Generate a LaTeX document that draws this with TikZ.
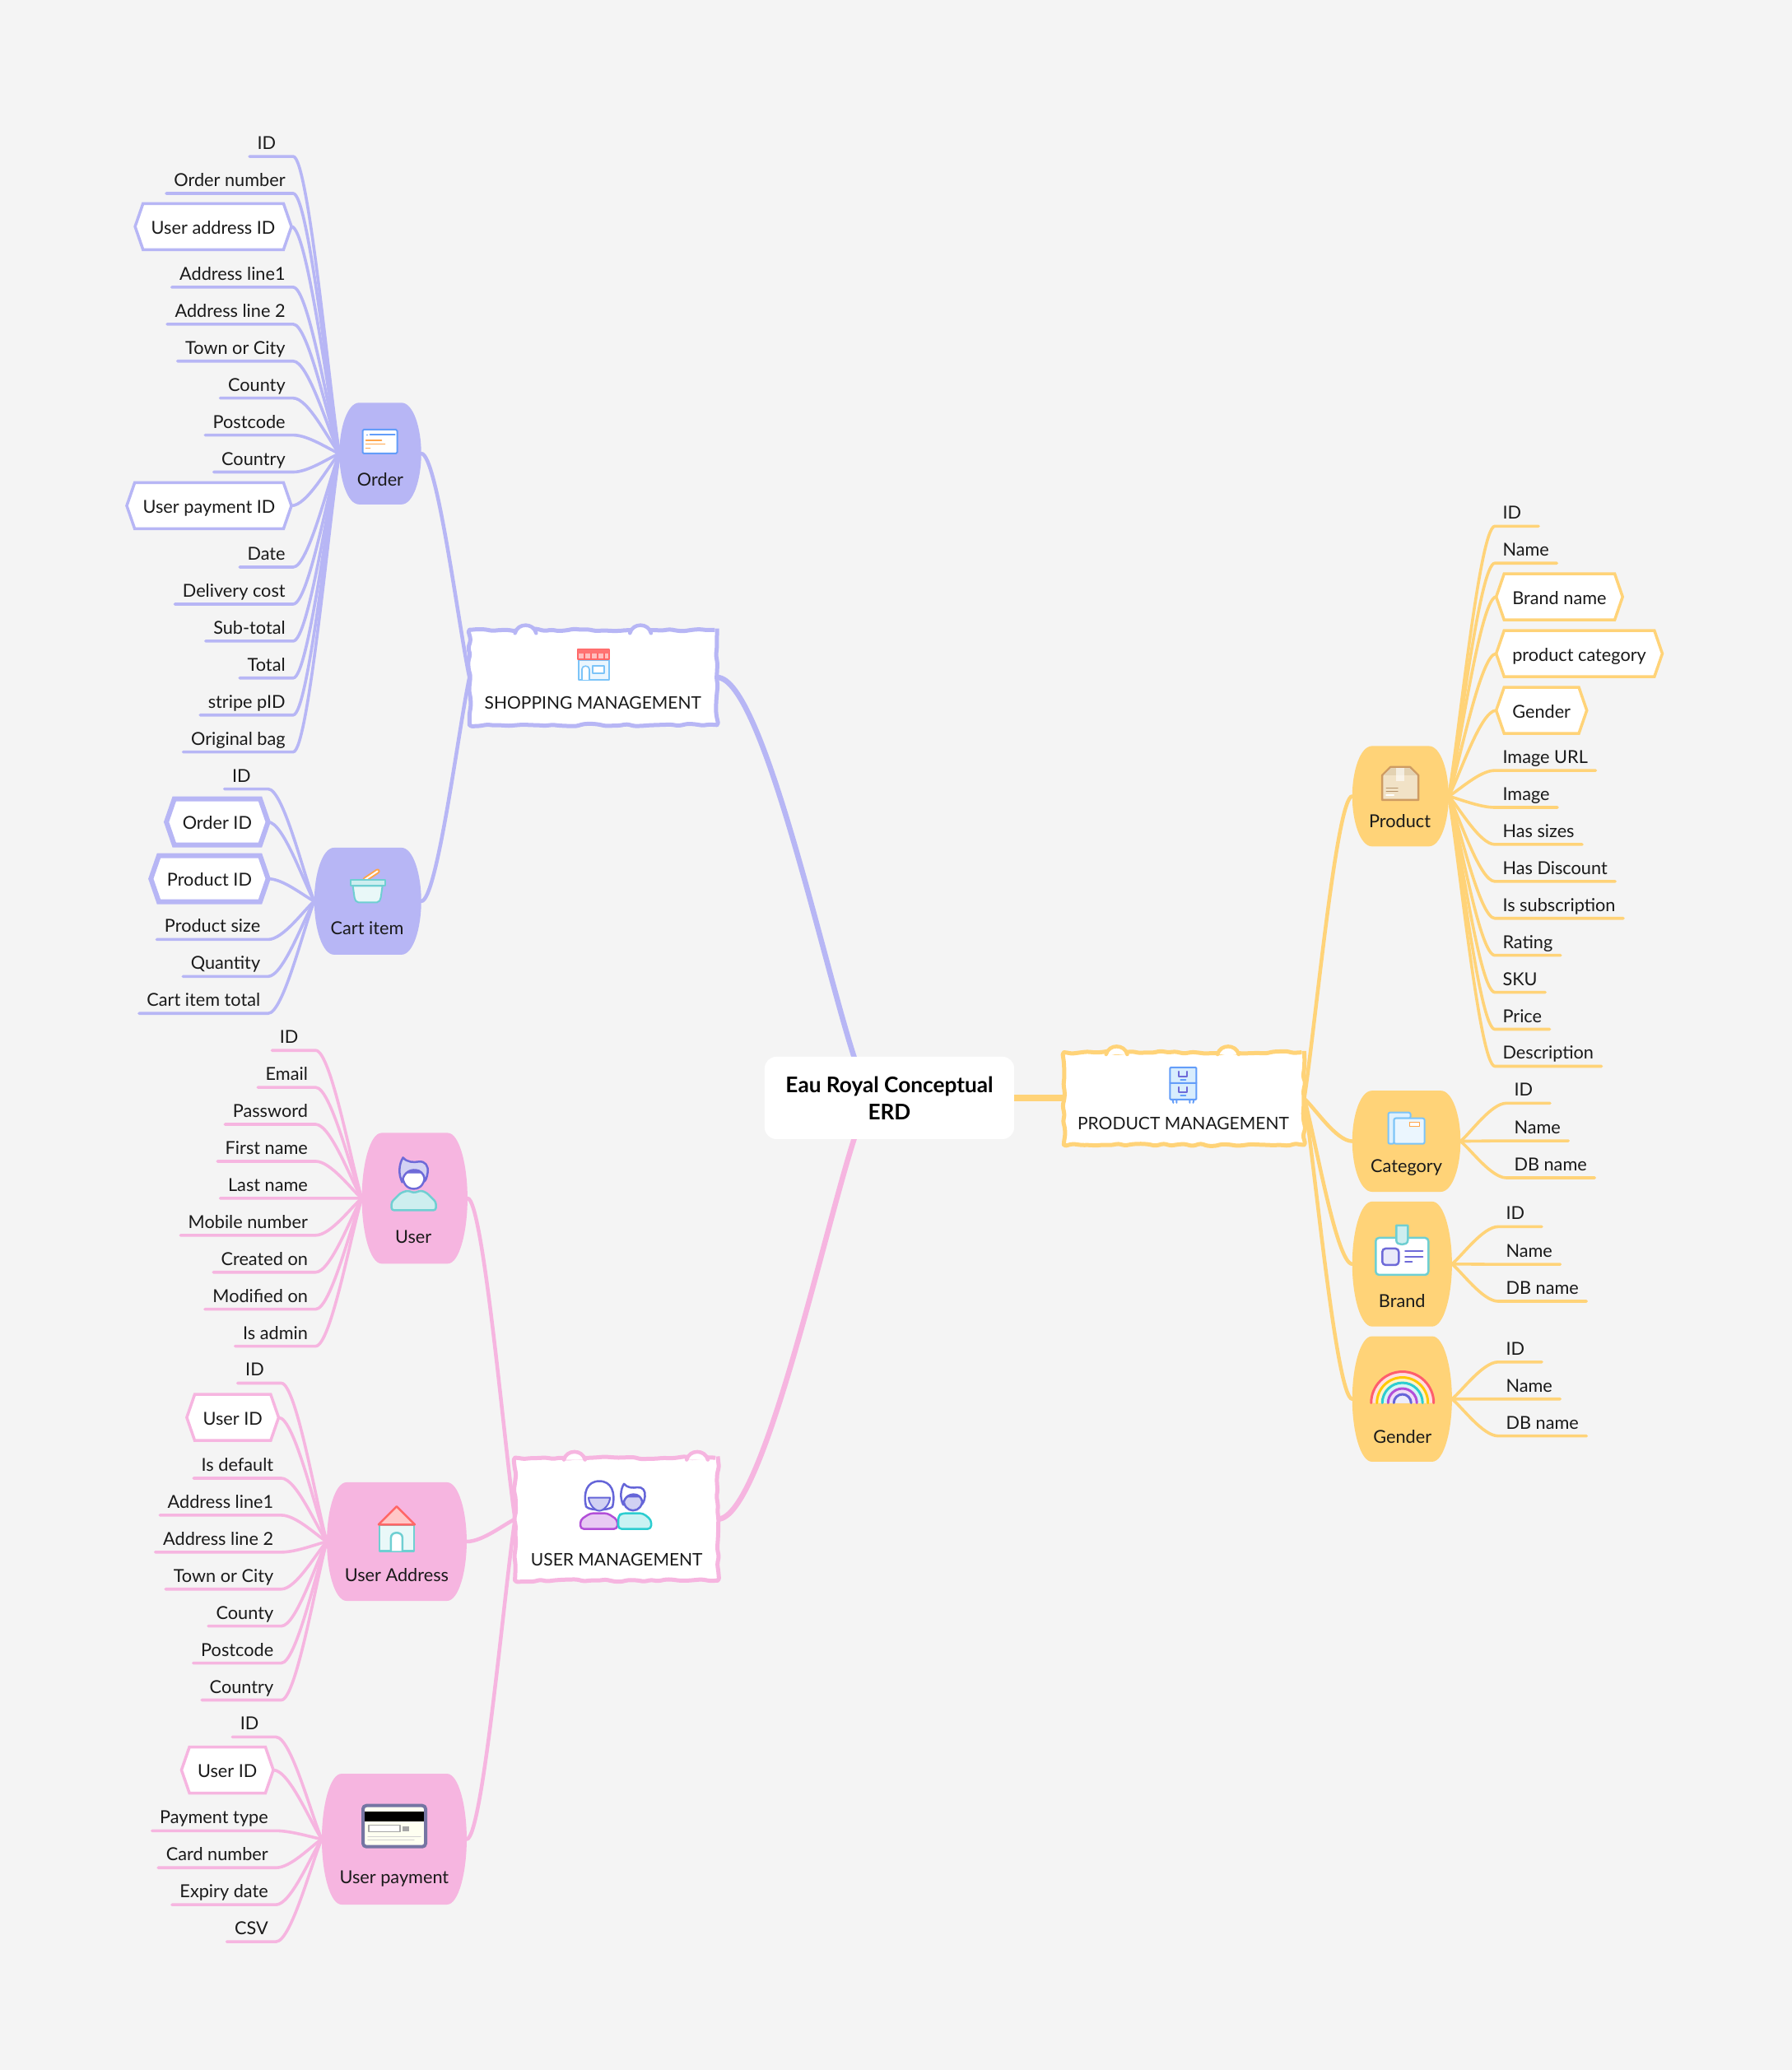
\documentclass[tikz,border=0pt]{standalone}
\usepackage{fontspec}
\setmainfont{Lato}
\usetikzlibrary{calc,fit,decorations.pathmorphing,shapes.symbols}
\pgfdeclarelayer{bglayer}\pgfdeclarelayer{conn}
\pgfsetlayers{bglayer,conn,main}
\definecolor{pgbg}{HTML}{F4F4F4}
\definecolor{lav}{HTML}{B7B6F5}
\definecolor{yel}{HTML}{FFD378}
\definecolor{pnk}{HTML}{F6B5E0}
\definecolor{ink}{HTML}{1A1A1A}
\definecolor{teal1}{HTML}{6FCFD2}
\definecolor{indg}{HTML}{6E6AD8}
\definecolor{sky}{HTML}{7CC4F8}
\definecolor{rbred}{HTML}{FF5E6C}
\definecolor{rbyel}{HTML}{FFC900}
\definecolor{rbtea}{HTML}{2CCDD0}
\definecolor{rbpur}{HTML}{B24FD8}
\definecolor{rbind}{HTML}{6565D8}
\definecolor{boxlt}{HTML}{F1E2C6}
\definecolor{boxdk}{HTML}{CE9B62}
\definecolor{boxbd}{HTML}{E3D2B2}
\colorlet{cur}{lav}
\pgfmathsetseed{7}
\tikzset{
 txt/.style={font=\fontsize{21.7}{26}\selectfont,text=ink},
 leaf/.style={txt,inner xsep=9.5pt,inner ysep=3.5pt,text height=16pt,text depth=5pt,minimum width=53pt,outer sep=0pt},
 idleaf/.style={leaf,text width=34pt,align=left},
 hexleaf/.style={txt,signal,signal to=east and west,signal pointer angle=142,draw=cur,fill=white,line width=3.5pt,inner xsep=10pt,inner ysep=0pt,minimum height=56pt,outer sep=0pt,text height=20pt,text depth=2pt},
 thickhex/.style={line width=6pt},
 branch/.style={draw=cur,line width=3.6pt,line cap=round},
 trunk/.style={draw=cur,line width=4.5pt,line cap=round},
 mainline/.style={draw=cur,line width=6.5pt},
 hubframe/.style={inner sep=0pt,outer sep=0pt},
 cloudbox/.style={draw=cur,fill=white,line width=5pt,line join=round,inner sep=0pt,outer sep=0pt,rounded corners=3pt,decorate,decoration={random steps,segment length=9pt,amplitude=1.6pt}},
 hubtext/.style={txt,inner sep=0pt},
 boxtext/.style={txt,font=\fontsize{21}{26}\selectfont,inner sep=0pt},
 ico/.style={line width=2pt,line join=round,line cap=round},
}
\newcommand{\curveto}[2]{.. controls ($(#1)!0.33!(#1 -| #2)$) and ($(#2)!0.22!(#1)$) .. (#2)}
\newcommand{\lf}[5]{\node[leaf,anchor=south east] (#1) at (#2,#3+10.5) {#4};
 \begin{pgfonlayer}{conn}\draw[branch] (#1.south west) -- (#1.south east) \curveto{#1.south east}{#5.west};\end{pgfonlayer}}
\newcommand{\lid}[5]{\node[idleaf,anchor=south east] (#1) at (#2,#3+10.5) {#4};
 \begin{pgfonlayer}{conn}\draw[branch] (#1.south west) -- (#1.south east) \curveto{#1.south east}{#5.west};\end{pgfonlayer}}
\newcommand{\lhex}[6][]{\node[hexleaf,#1,anchor=east] (#2) at (#3,#4) {#5};
 \begin{pgfonlayer}{conn}\draw[branch] (#2.east) \curveto{#2.east}{#6.west};\end{pgfonlayer}}
\newcommand{\rf}[5]{\node[leaf,anchor=south west] (#1) at (#2,#3+10.5) {#4};
 \begin{pgfonlayer}{conn}\draw[branch] (#1.south east) -- (#1.south west) \curveto{#1.south west}{#5.east};\end{pgfonlayer}}
\newcommand{\rid}[5]{\node[idleaf,anchor=south west] (#1) at (#2,#3+10.5) {#4};
 \begin{pgfonlayer}{conn}\draw[branch] (#1.south east) -- (#1.south west) \curveto{#1.south west}{#5.east};\end{pgfonlayer}}
\newcommand{\rhex}[5]{\node[hexleaf,anchor=west] (#1) at (#2,#3) {#4};
 \begin{pgfonlayer}{conn}\draw[branch] (#1.west) \curveto{#1.west}{#5.east};\end{pgfonlayer}}
\newcommand{\hubshape}[5]{%
 \pgfmathsetmacro\hh{(#5-#3)*0.25}\pgfmathsetmacro\ym{(#3+#5)/2}%
 \fill[cur] (#2+15,#3) -- (#4-15,#3) .. controls (#4-6,#3) and (#4,#3+\hh) .. (#4,\ym) .. controls (#4,#5-\hh) and (#4-6,#5) .. (#4-15,#5)
  -- (#2+15,#5) .. controls (#2+6,#5) and (#2,#5-\hh) .. (#2,\ym) .. controls (#2,#3+\hh) and (#2+6,#3) .. (#2+15,#3) -- cycle;
 \node[hubframe,fit={(#2,#3)(#4,#5)}] (#1) {};}
\newcommand{\cbump}[2]{\filldraw[cur,line width=4.5pt,fill=white,line cap=round] (#1-8,#2+1.5) .. controls (#1-6,#2-6.5) and (#1+6,#2-6.5) .. (#1+8,#2+1.5);}
\newcommand{\icon}[3]{\begin{scope}[shift={(#1,#2)},x=1pt,y=-1pt,ico]#3\end{scope}}
\newcommand{\rarc}[2]{\draw[#2] (-#1,0) .. controls (-#1,-0.552*#1) and (-0.552*#1,-#1) .. (0,-#1) .. controls (0.552*#1,-#1) and (#1,-0.552*#1) .. (#1,0);}
\begin{document}
\begin{tikzpicture}[x=1.60427pt,y=-1.60427pt]
\begin{pgfonlayer}{bglayer}
\fill[pgbg] (0,0) rectangle (1357,1567.7);
\end{pgfonlayer}
\useasboundingbox (0,0) rectangle (1357,1567.7);

\node[fill=white,rounded corners=14pt,inner sep=0pt,outer sep=0pt,minimum width=303pt,minimum height=100pt,align=center,
 font=\fontsize{26.2}{33}\selectfont\bfseries,text=black] (center) at (673.5,831.5) {Eau Royal Conceptual\\ERD};
\coordinate (ctop) at (650,810);
\coordinate (cbot) at (650,853);

%========== SHOPPING
\colorlet{cur}{lav}
\node[cloudbox,fit={(355.5,477)(543,549)}] (shop) {};
\cbump{398}{478}\cbump{485}{478}
\node[boxtext] (shopT) at (449,532) {SHOPPING MANAGEMENT};
\begin{pgfonlayer}{conn}\draw[mainline] (shop.east) \curveto{shop.east}{ctop};\end{pgfonlayer}
\icon{449.4}{503}{
 \draw[sky,fill=sky!15,line width=1.6pt] (-18,-5) rectangle (19,19);
 \draw[sky,line width=1.6pt,fill=white] (-14,19) -- (-14,6) .. controls (-14,1) and (-5,1) .. (-5,6) -- (-5,19);
 \draw[sky,line width=1.6pt,fill=white] (-1,2) rectangle (13,11);
 \draw[red!60!white,fill=red!25!white,line width=1.6pt] (-19,-18) rectangle (19,-6);
 \fill[red!55!white] (-19,-18) rectangle (19,-13);
 \foreach \q in {-11,-3,5,13}{\draw[red!60!white,line width=1.6pt] (\q,-13) -- (\q,-7);}
}
\hubshape{order}{257}{305}{319}{382}
\node[hubtext] (orderT) at (288,363) {Order};
\icon{287.7}{334.4}{
 \draw[sky!80!blue,fill=white,rounded corners=1.5pt] (-21,-14.5) rectangle (21,14.5);
 \draw[sky!80!blue] (-12,-8) -- (18,-8); \fill[sky!80!blue] (-17,-8.8) rectangle (-15,-7.2);
 \draw[orange!70!white,line width=1.5pt] (-17,-1.5) -- (2,-1.5) (-17,3) -- (6,3) (-17,8) -- (-12,8);
}
\begin{pgfonlayer}{conn}\draw[trunk] (order.east) \curveto{order.east}{shop.west};\end{pgfonlayer}
\lid{o1}{222}{108}{ID}{order}
\lf{o2}{222}{136}{Order number}{order}
\lhex{o3}{220.7}{171.6}{User address ID}{order}
\lf{o4}{222}{207}{Address line1}{order}
\lf{o5}{222}{235}{Address line 2}{order}
\lf{o6}{222}{263}{Town or City}{order}
\lf{o7}{222}{291}{County}{order}
\lf{o8}{222}{319}{Postcode}{order}
\lf{o9}{222}{347}{Country}{order}
\lhex{o10}{220.7}{383}{User payment ID}{order}
\lf{o11}{222}{419}{Date}{order}
\lf{o12}{222}{447}{Delivery cost}{order}
\lf{o13}{222}{475}{Sub-total}{order}
\lf{o14}{222}{503}{Total}{order}
\lf{o15}{222}{531}{stripe pID}{order}
\lf{o16}{222}{559}{Original bag}{order}

\hubshape{cart}{238}{642}{319}{723}
\node[hubtext] (cartT) at (278,703) {Cart item};
\icon{278.4}{671}{
 \draw[orange!70!white,line width=6pt] (-3,-8) -- (12,-18);
 \draw[white,line width=2pt] (-3,-8) -- (12,-18);
 \draw[teal1,fill=teal1!15] (-18,0) -- (-16,14) .. controls (-15.5,17) and (-14,20) .. (-11,20) -- (11,20) .. controls (14,20) and (15.5,17) .. (16,14) -- (18,0) -- cycle;
 \draw[teal1,fill=teal1!35] (-21,-7) rectangle (21,0);
}
\begin{pgfonlayer}{conn}\draw[trunk] (cart.east) \curveto{cart.east}{shop.west};\end{pgfonlayer}
\lid{c1}{203}{587}{ID}{cart}
\lhex[thickhex]{c2}{203}{622.5}{Order ID}{cart}
\lhex[thickhex]{c3}{203}{665.5}{Product ID}{cart}
\lf{c4}{203}{701}{Product size}{cart}
\lf{c5}{203}{729}{Quantity}{cart}
\lf{c6}{203}{757}{Cart item total}{cart}

%========== PRODUCT
\colorlet{cur}{yel}
\node[cloudbox,fit={(805.6,797)(987.6,867)}] (prod) {};
\cbump{845.6}{797}\cbump{930}{797}
\node[boxtext] (prodT) at (896,851) {PRODUCT MANAGEMENT};
\begin{pgfonlayer}{conn}\draw[draw=yel,line width=8pt] (center.east) -- (center.east -| prod.west);\end{pgfonlayer}
\icon{896}{821.5}{
 \draw[sky!80!blue,fill=sky!30,rounded corners=1pt] (-16,-21) rectangle (16,18);
 \draw[sky!80!blue] (-13,18) -- (-12,22) (-8,18) -- (-8,22) (13,18) -- (12,22) (8,18) -- (8,22) (-16,-2) -- (16,-2);
 \draw[indg] (-5,-16) -- (-5,-10) -- (5,-10) -- (5,-16) (-5,3) -- (-5,9) -- (5,9) -- (5,3);
 \draw[sky!80!blue] (-3,-6) -- (3,-6) (-3,13) -- (3,13);
}
\hubshape{product}{1024}{565}{1097}{641}
\node[hubtext] (productT) at (1060,622) {Product};
\icon{1060.4}{593.4}{
 \draw[boxdk,fill=boxlt,line width=2.5pt] (-22,-10) -- (-12,-20) -- (12,-20) -- (22,-10) -- (22,20) -- (-22,20) -- cycle;
 \fill[boxbd] (-20.5,-10) -- (-11.5,-18.5) -- (11.5,-18.5) -- (20.5,-10) -- cycle;
 \fill[white,opacity=.6] (-5,-18.5) rectangle (5,-3);
 \draw[boxdk!70!gray,line width=1pt] (-17,6) -- (-3,6) (-17,10) -- (-3,10);
 \draw[white,line width=2pt] (-17,14) -- (-8,14);
}
\begin{pgfonlayer}{conn}\draw[trunk] (product.west) \curveto{product.west}{prod.east};\end{pgfonlayer}
\rid{p1}{1132}{388}{ID}{product}
\rf{p2}{1132}{416}{Name}{product}
\rhex{p3}{1133}{452}{Brand name}{product}
\rhex{p4}{1133}{495}{product category}{product}
\rhex{p5}{1133}{538}{Gender}{product}
\rf{p6}{1132}{573}{Image URL}{product}
\rf{p7}{1132}{601}{Image}{product}
\rf{p8}{1132}{629}{Has sizes}{product}
\rf{p9}{1132}{657}{Has Discount}{product}
\rf{p10}{1132}{685}{Is subscription}{product}
\rf{p11}{1132}{713}{Rating}{product}
\rf{p12}{1132}{741}{SKU}{product}
\rf{p13}{1132}{769}{Price}{product}
\rf{p14}{1132}{797}{Description}{product}

\hubshape{cat}{1024}{826}{1106}{902.6}
\node[hubtext] (catT) at (1065,884) {Category};
\icon{1065}{854.4}{
 \draw[sky,fill=sky!25,rounded corners=2pt] (-22,19) -- (-22,-19) -- (5,-19) -- (5,-12) -- (-15,-12) -- (-15,19) -- cycle;
 \draw[sky,fill=sky!15,rounded corners=2pt] (-15,-12) rectangle (22,19);
 \draw[orange!70!white,fill=white,line width=1.5pt] (4,-7) rectangle (16,-2);
}
\begin{pgfonlayer}{conn}\draw[trunk] (cat.west) \curveto{cat.west}{prod.east};\end{pgfonlayer}
\rid{k1}{1140.7}{825}{ID}{cat}
\rf{k2}{1140.7}{853.5}{Name}{cat}
\rf{k3}{1140.7}{881.5}{DB name}{cat}

\hubshape{brand}{1024}{910}{1099.5}{1004.6}
\node[hubtext] (brandT) at (1061.7,985.5) {Brand};
\icon{1061.7}{946.8}{
 \draw[teal1,fill=white,line width=2.5pt,rounded corners=4pt] (-32,-15) rectangle (32,30);
 \draw[teal1,fill=teal1!35,line width=2.5pt] (-7,-30) -- (7,-30) -- (7,-12) .. controls (7,-8) and (3,-7) .. (0,-7) .. controls (-3,-7) and (-7,-8) .. (-7,-12) -- cycle;
 \draw[indg,fill=indg!15,line width=2.5pt,rounded corners=4pt] (-24,-2) rectangle (-4,18);
 \draw[indg,line width=2.2pt] (4,1) -- (25,1) (4,8) -- (25,8) (4,14) -- (12,14);
}
\begin{pgfonlayer}{conn}\draw[trunk] (brand.west) \curveto{brand.west}{prod.east};\end{pgfonlayer}
\rid{b1}{1134.5}{918.5}{ID}{brand}
\rf{b2}{1134.5}{947}{Name}{brand}
\rf{b3}{1134.5}{975}{DB name}{brand}

\hubshape{gender}{1024}{1012}{1099.5}{1107}
\node[hubtext] (genderT) at (1062,1088) {Gender};
\icon{1062}{1062.5}{
 \rarc{38}{rbred,fill=rbred!20!white,line width=3pt}
 \rarc{31}{rbyel,fill=rbyel!20!white,line width=3pt}
 \rarc{24.5}{rbtea,fill=rbtea!20!white,line width=3pt}
 \rarc{17.5}{rbpur,fill=rbpur!20!white,line width=3pt}
 \rarc{10.5}{rbind,fill=rbind!12!white,line width=3pt}
}
\begin{pgfonlayer}{conn}\draw[trunk] (gender.west) \curveto{gender.west}{prod.east};\end{pgfonlayer}
\rid{g1}{1134.5}{1021}{ID}{gender}
\rf{g2}{1134.5}{1049}{Name}{gender}
\rf{g3}{1134.5}{1077}{DB name}{gender}

%========== USER
\colorlet{cur}{pnk}
\node[cloudbox,fit={(390,1104)(543.5,1197)}] (umg) {};
\cbump{435}{1104}\cbump{528}{1104}
\node[boxtext] (umgT) at (467,1181) {USER MANAGEMENT};
\begin{pgfonlayer}{conn}\draw[mainline] (umg.east) \curveto{umg.east}{cbot};\end{pgfonlayer}
\icon{466.3}{1139.8}{
 \draw[rbpur,fill=rbpur!30!white,line width=2.5pt,rounded corners=4pt] (-43,29) -- (-43,18) -- (-31,10) -- (-10,10) -- (2,18) -- (2,29) -- cycle;
 \draw[rbind,fill=white,line width=2.5pt] (-36,2) .. controls (-40,-15) and (-35,-29) .. (-20,-29) .. controls (-5,-29) and (0,-15) .. (-4,2) .. controls (-8,7) and (-32,7) .. (-36,2) -- cycle;
 \draw[rbind,fill=rbind!30!white,line width=2pt] (-33,-9) .. controls (-25,-9) and (-15,-9) .. (-7,-9) .. controls (-7,-2) and (-14,7) .. (-20,7) .. controls (-26,7) and (-33,-2) .. (-33,-9) -- cycle;
 \draw[rbtea,fill=rbtea!25!white,line width=2.5pt,rounded corners=4pt] (3,29) -- (43,29) -- (43,18) -- (33,10) -- (8,10) -- (3,13) -- cycle;
 \begin{scope}[shift={(21,1.5)},x=0.85pt,y=-0.85pt]
  \draw[rbind,fill=rbind!30!white,line width=2.5pt] (-14,-14) .. controls (-14,0) and (-8,6) .. (0,6) .. controls (8,6) and (14,0) .. (14,-14) -- cycle;
  \draw[rbind,fill=white,line width=2.5pt] (-14,-2) .. controls (-19,-12) and (-18,-24) .. (-13,-32) .. controls (-8,-26) and (0,-26) .. (6,-27) .. controls (14,-28) and (18,-22) .. (17,-14) .. controls (16,-8) and (15,-5) .. (13,-3) .. controls (14,-8) and (11,-14) .. (6,-16) .. controls (-2,-19) and (-13,-15) .. (-14,-2) -- cycle;
 \end{scope}
}
\hubshape{user}{274}{858}{354}{957}
\node[hubtext] (userT) at (313,937) {User};
\icon{313.3}{896.6}{
 \draw[teal1,fill=teal1!35!white,line width=2.5pt,rounded corners=3pt] (-27,32) -- (-27,22) -- (-16,11) -- (-7,8) -- (0,11) -- (9,8) -- (16,11) -- (27,22) -- (27,32) -- cycle;
 \draw[indg,fill=white,line width=2.5pt] (-14,-14) .. controls (-14,0) and (-8,6) .. (0,6) .. controls (8,6) and (14,0) .. (14,-14) -- cycle;
 \draw[indg,fill=indg!30!white,line width=2.5pt] (-14,-2) .. controls (-19,-12) and (-18,-24) .. (-13,-32) .. controls (-8,-26) and (0,-26) .. (6,-27) .. controls (14,-28) and (18,-22) .. (17,-14) .. controls (16,-8) and (15,-5) .. (13,-3) .. controls (14,-8) and (11,-14) .. (6,-16) .. controls (-2,-19) and (-13,-15) .. (-14,-2) -- cycle;
}
\begin{pgfonlayer}{conn}\draw[trunk] (user.east) \curveto{user.east}{umg.west};\end{pgfonlayer}
\lid{u1}{239}{785}{ID}{user}
\lf{u2}{239}{813}{Email}{user}
\lf{u3}{239}{841}{Password}{user}
\lf{u4}{239}{869}{First name}{user}
\lf{u5}{239}{897}{Last name}{user}
\lf{u6}{239}{925}{Mobile number}{user}
\lf{u7}{239}{953}{Created on}{user}
\lf{u8}{239}{981}{Modified on}{user}
\lf{u9}{239}{1009}{Is admin}{user}

\hubshape{addr}{247.5}{1122.6}{353.4}{1212.4}
\node[hubtext] (addrT) at (300.4,1193) {User Address};
\icon{300.4}{1157.7}{
 \draw[teal1,fill=teal1!15!white,line width=2.5pt] (-21,-5) rectangle (21,27);
 \draw[red!60!white,fill=red!22!white,line width=2.5pt] (-22,-5) -- (0,-27) -- (22,-5) -- cycle;
 \draw[teal1,fill=white,line width=2.5pt] (-7,27) -- (-7,11) .. controls (-7,3) and (7,3) .. (7,11) -- (7,27);
}
\begin{pgfonlayer}{conn}\draw[trunk] (addr.east) \curveto{addr.east}{umg.west};\end{pgfonlayer}
\lid{a1}{213}{1037}{ID}{addr}
\lhex{a2}{211}{1073.5}{User ID}{addr}
\lf{a3}{213}{1109}{Is default}{addr}
\lf{a4}{213}{1137}{Address line1}{addr}
\lf{a5}{213}{1165}{Address line 2}{addr}
\lf{a6}{213}{1193}{Town or City}{addr}
\lf{a7}{213}{1221}{County}{addr}
\lf{a8}{213}{1249}{Postcode}{addr}
\lf{a9}{213}{1277}{Country}{addr}

\hubshape{pay}{243.7}{1343.3}{353.4}{1442.4}
\node[hubtext] (payT) at (298.5,1423) {User payment};
\icon{298.6}{1383}{
 \draw[gray!80!blue!90!white,fill=white!90!green!50!yellow!10!white,line width=4pt,rounded corners=4pt] (-38,-25) rectangle (38,25);
 \fill[black] (-36,-18) rectangle (36,-6);
 \draw[gray!70,line width=1.5pt,fill=white] (-31,-1) rectangle (7,7);
 \fill[gray!70] (10,0) rectangle (18,6);
 \draw[gray!35,line width=1.2pt] (-32,13) -- (32,13) (-32,17) -- (24,17);
}
\begin{pgfonlayer}{conn}\draw[trunk] (pay.east) \curveto{pay.east}{umg.west};\end{pgfonlayer}
\lid{y1}{209}{1305}{ID}{pay}
\lhex{y2}{207}{1340.5}{User ID}{pay}
\lf{y3}{209}{1376}{Payment type}{pay}
\lf{y4}{209}{1404}{Card number}{pay}
\lf{y5}{209}{1432}{Expiry date}{pay}
\lf{y6}{209}{1460}{CSV}{pay}
\end{tikzpicture}
\end{document}
